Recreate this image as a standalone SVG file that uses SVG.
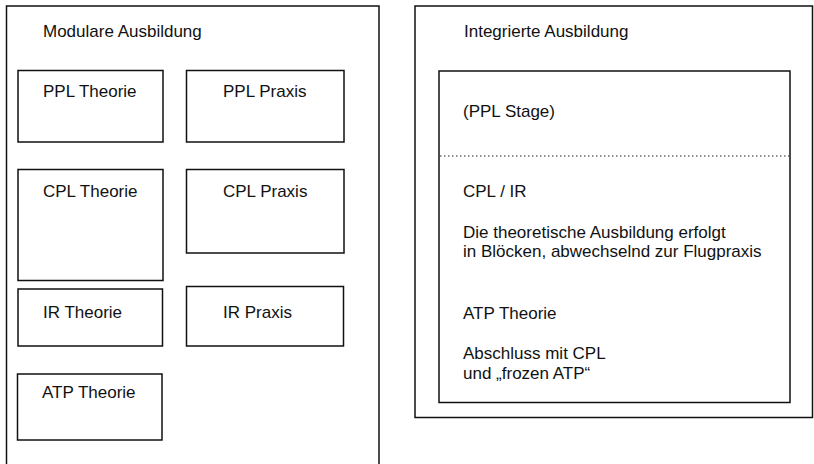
<svg xmlns="http://www.w3.org/2000/svg" width="814" height="464" viewBox="0 0 814 464">
<style>
.b{fill:#fff;stroke:#111;stroke-width:1.5}
.t{font-family:"Liberation Sans",Arial,sans-serif;font-size:17px;fill:#111}
.d{stroke:#222;stroke-width:1.2;stroke-dasharray:1.5 2.5;fill:none}
</style>
<rect width="814" height="464" fill="#fff"/>
<g id="modular">
<rect class="b" x="6.5" y="6" width="372.5" height="470"/>
<text class="t" x="43" y="37">Modulare Ausbildung</text>
</g>
<g id="ppl-theorie"><rect class="b" x="18" y="70.5" width="145" height="71.5"/><text class="t" x="43" y="97">PPL Theorie</text></g>
<g id="ppl-praxis"><rect class="b" x="186.5" y="70.5" width="157.5" height="71.5"/><text class="t" x="223" y="97">PPL Praxis</text></g>
<g id="cpl-theorie"><rect class="b" x="18" y="169.5" width="145" height="111"/><text class="t" x="43" y="197">CPL Theorie</text></g>
<g id="cpl-praxis"><rect class="b" x="186.5" y="169.5" width="157.5" height="83.5"/><text class="t" x="223" y="197">CPL Praxis</text></g>
<g id="ir-theorie"><rect class="b" x="18" y="289" width="144.5" height="57"/><text class="t" x="43" y="318">IR Theorie</text></g>
<g id="ir-praxis"><rect class="b" x="186.5" y="286.5" width="157" height="59.5"/><text class="t" x="223" y="318">IR Praxis</text></g>
<g id="atp-theorie"><rect class="b" x="17.5" y="374" width="144.5" height="66"/><text class="t" x="42" y="398">ATP Theorie</text></g>
<g id="integriert">
<rect class="b" x="415" y="6" width="397.5" height="411.5"/>
<text class="t" x="464" y="37">Integrierte Ausbildung</text>
</g>
<g id="integriert-inhalt">
<rect class="b" x="439" y="71" width="351" height="331.5"/>
<text class="t" x="463" y="117">(PPL Stage)</text>
<text class="t" x="463" y="197">CPL / IR</text>
<text class="t" x="463" y="238">Die theoretische Ausbildung erfolgt</text>
<text class="t" x="463" y="257">in Blöcken, abwechselnd zur Flugpraxis</text>
<text class="t" x="463" y="319">ATP Theorie</text>
<text class="t" x="463" y="359">Abschluss mit CPL</text>
<text class="t" x="463" y="379">und „frozen ATP“</text>
</g>
<g id="connectors">
<line class="d" x1="440" y1="156" x2="789" y2="156"/>
</g>
</svg>
